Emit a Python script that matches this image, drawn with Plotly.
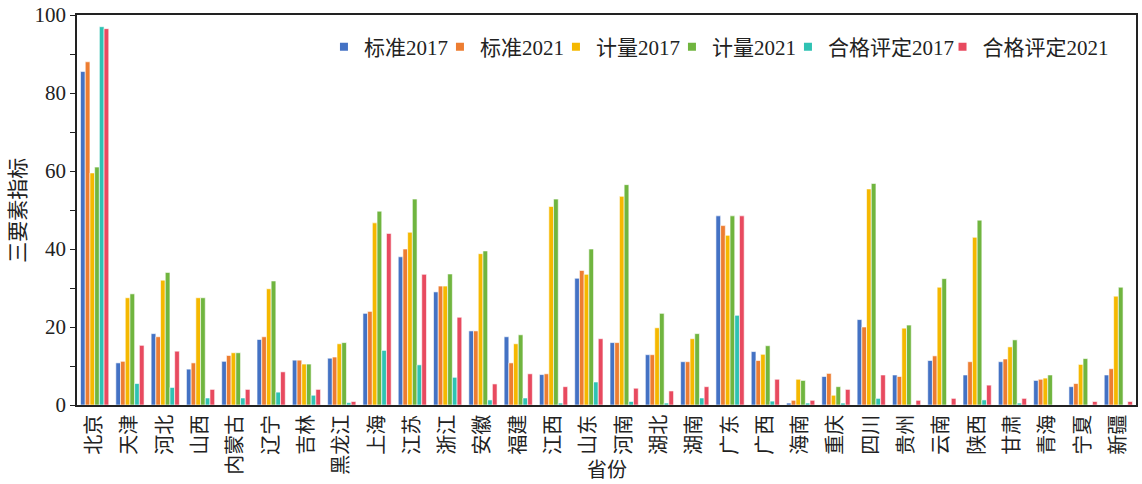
import plotly.graph_objects as go

provinces = ["北京", "天津", "河北", "山西", "内蒙古", "辽宁", "吉林", "黑龙江", "上海", "江苏",
             "浙江", "安徽", "福建", "江西", "山东", "河南", "湖北", "湖南", "广东", "广西",
             "海南", "重庆", "四川", "贵州", "云南", "陕西", "甘肃", "青海", "宁夏", "新疆"]

std2017 = [85.5, 10.8, 18.3, 9.2, 11.2, 16.8, 11.5, 12.0, 23.5, 38.0,
           29.0, 19.0, 17.5, 7.8, 32.5, 16.0, 12.9, 11.1, 48.5, 13.7,
           0.5, 7.3, 21.9, 7.7, 11.4, 7.7, 11.1, 6.3, 4.7, 7.7]
std2021 = [88.0, 11.2, 17.5, 10.8, 12.7, 17.5, 11.5, 12.3, 24.0, 40.0,
           30.5, 19.0, 10.8, 8.0, 34.5, 16.0, 12.9, 11.1, 46.0, 11.4,
           1.2, 8.1, 20.0, 7.3, 12.6, 11.1, 11.8, 6.6, 5.5, 9.3]
met2017 = [59.5, 27.5, 32.0, 27.5, 13.4, 29.8, 10.5, 15.7, 46.7, 44.3,
           30.5, 38.8, 15.7, 50.9, 33.5, 53.5, 19.8, 17.0, 43.5, 13.0,
           6.6, 2.5, 55.4, 19.7, 30.2, 43.0, 14.9, 6.9, 10.4, 27.9]
met2021 = [61.0, 28.5, 34.0, 27.5, 13.4, 31.8, 10.5, 16.0, 49.7, 52.8,
           33.6, 39.5, 18.0, 52.8, 40.0, 56.5, 23.5, 18.3, 48.5, 15.2,
           6.3, 4.7, 56.8, 20.5, 32.4, 47.4, 16.7, 7.7, 11.9, 30.2]
conf2017 = [97.0, 5.5, 4.5, 1.8, 1.8, 3.3, 2.5, 0.6, 14.0, 10.3,
            7.1, 1.3, 1.8, 0.5, 5.9, 0.9, 0.5, 1.8, 23.0, 1.0,
            0.5, 0.5, 1.7, 0.0, 0.0, 1.3, 0.5, 0.0, 0.0, 0.0]
conf2021 = [96.5, 15.3, 13.8, 4.0, 4.0, 8.5, 4.0, 0.9, 44.0, 33.5,
            22.5, 5.4, 8.0, 4.7, 17.0, 4.3, 3.6, 4.7, 48.5, 6.6,
            1.2, 4.0, 7.7, 1.2, 1.7, 5.1, 1.7, 0.0, 0.9, 0.9]

series_names = ["标准2017", "标准2021", "计量2017", "计量2021", "合格评定2017", "合格评定2021"]
series_values = [std2017, std2021, met2017, met2021, conf2017, conf2021]
colors = ["#4472C4", "#ED7D31", "#F5B800", "#70B53F", "#2FC2B3", "#E84A5F"]
legend_groups = ["legend", "legend", "legend", "legend", "legend", "legend2"]

FONT = "Liberation Serif, Times New Roman, Noto Sans CJK SC, serif"

fig = go.Figure()
for name, vals, c in zip(series_names, series_values, colors):
    fig.add_trace(go.Bar(
        x=provinces, y=vals, name=name, marker_color=c,
        marker_line=dict(color="white", width=0.6), showlegend=False,
    ))
# legend entries with small square markers
for name, c, lg in zip(series_names, colors, legend_groups):
    fig.add_trace(go.Scatter(
        x=[None], y=[None], mode="markers", name=name, legend=lg,
        marker=dict(symbol="square", size=8, color=c),
    ))
# invisible spacer entry so the last real entry of the first legend is not clipped
fig.add_trace(go.Scatter(
    x=[None], y=[None], mode="markers", name=" ", legend="legend",
    marker=dict(symbol="square", size=8, color="rgba(0,0,0,0)"),
))

legend_common = dict(orientation="h", yanchor="top", xanchor="left",
                     bgcolor="rgba(0,0,0,0)", font=dict(size=21, family=FONT, color="#222"),
                     itemwidth=30, tracegroupgap=0, traceorder="normal")

fig.update_layout(
    width=1142, height=484,
    margin=dict(l=77, r=6, t=15, b=79, autoexpand=False),
    paper_bgcolor="white", plot_bgcolor="white",
    barmode="group", bargap=0.2, bargroupgap=0.0,
    font=dict(family=FONT, size=19, color="#222"),
    legend=dict(x=0.2332, y=0.97, entrywidth=71, entrywidthmode="pixels", **legend_common),
    legend2=dict(x=0.8173, y=0.97, **legend_common),
    showlegend=True,
    annotations=[
        dict(text="省份", xref="paper", yref="paper", x=0.5, y=-0.1667,
             xanchor="center", yanchor="middle", showarrow=False,
             font=dict(size=20, family=FONT, color="#222")),
        dict(text="三要素指标", xref="paper", yref="paper", x=-0.056, y=0.5,
             xanchor="center", yanchor="middle", showarrow=False, textangle=-90,
             font=dict(size=21, family=FONT, color="#222")),
    ],
)
fig.update_xaxes(
    type="category", tickangle=-90, showgrid=False, automargin=False,
    showline=True, linecolor="#222", linewidth=1.5, mirror=True,
    ticks="", tickfont=dict(size=20, family=FONT, color="#222"),
)
fig.update_yaxes(
    range=[0, 100], dtick=20, showgrid=False, zeroline=False, automargin=False,
    showline=True, linecolor="#222", linewidth=1.5, mirror=True,
    ticks="outside", ticklen=5, tickcolor="#222", ticklabeloverflow="allow",
    minor=dict(dtick=10, ticks="outside", ticklen=5, tickcolor="#222"),
    tickfont=dict(size=21, family=FONT, color="#222"),
)

fig.write_html("out.html", config={"displayModeBar": False},
               post_script="document.body.style.margin='0';")
